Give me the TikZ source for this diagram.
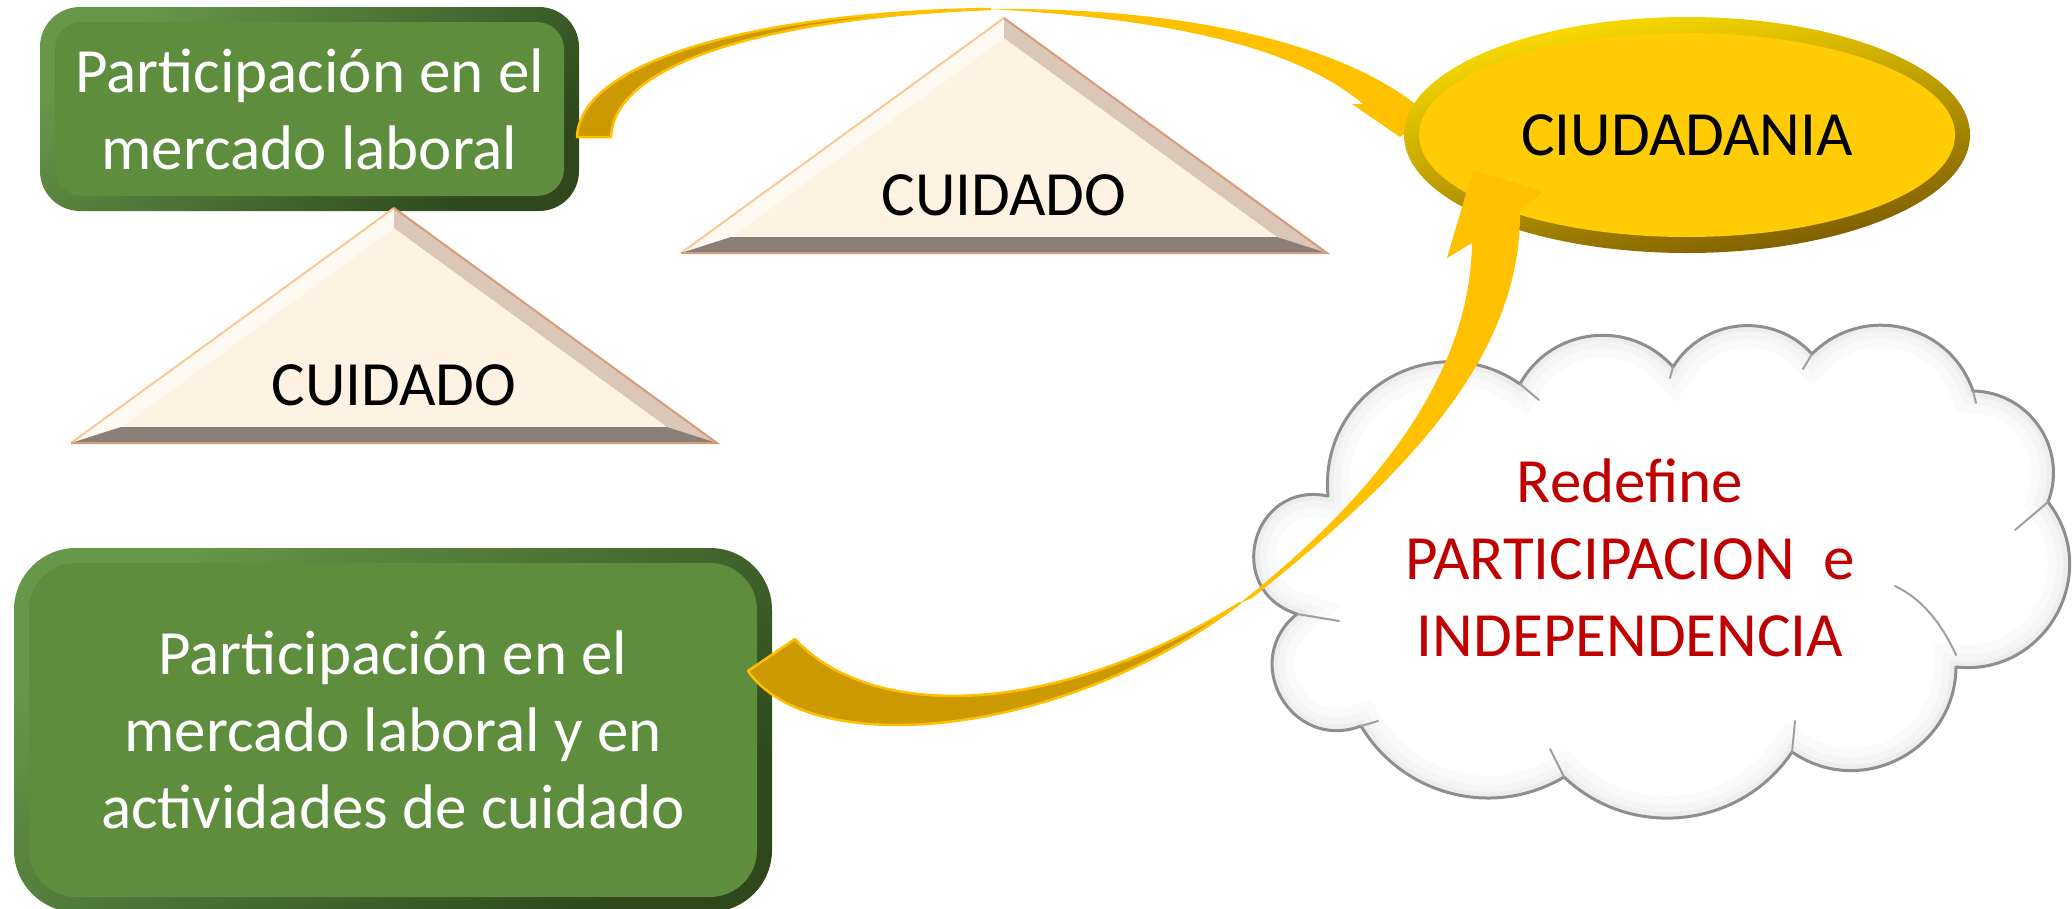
\documentclass[tikz,border=0pt]{standalone}
\usepackage{fontspec}
\setmainfont{Carlito}
\usetikzlibrary{shapes.geometric,calc}
\definecolor{faceGreen}{HTML}{5E8D3E}
\definecolor{rimLight}{HTML}{66974A}
\definecolor{rimDark}{HTML}{2E481C}
\definecolor{arrDark}{HTML}{CC9900}
\definecolor{arrGold}{HTML}{FFC000}
\definecolor{ciuFace}{HTML}{FFCC06}
\definecolor{ringLight}{HTML}{FFE000}
\definecolor{ringDark}{HTML}{7A5A00}
\definecolor{triFace}{HTML}{FEF2E3}
\definecolor{triLeft}{HTML}{FFFAF1}
\definecolor{triRight}{HTML}{DBC7B8}
\definecolor{triBottom}{HTML}{8A7E77}
\definecolor{triEdgeL}{HTML}{F9C896}
\definecolor{triEdgeR}{HTML}{D69C78}
\definecolor{cloudLine}{HTML}{8E8E8E}
\definecolor{redText}{HTML}{C00000}
\tikzset{
  big/.style={font=\fontsize{63pt}{77pt}\selectfont},
  greenbox/.style 2 args={big, text=white, align=center, inner sep=0pt,
    rounded corners=#1, top color=rimLight, bottom color=rimDark, shading angle=40,
    path picture={\fill[faceGreen, rounded corners=#2]
      ([shift={(15pt,-15pt)}]path picture bounding box.north west) rectangle
      ([shift={(-15pt,15pt)}]path picture bounding box.south east);}},
  ringnode/.style={ellipse, big, inner sep=0pt, text=black,
    top color=ringLight, bottom color=ringDark, shading angle=12,
    path picture={\fill[ciuFace] (path picture bounding box.center)
      ellipse [x radius=268pt, y radius=102pt];}},
  label/.style={big, inner sep=0pt, align=center},
  arrowback/.style={fill=arrDark, draw=arrGold, line width=2.5pt, line join=round},
  arrowfront/.style={fill=arrGold},
  cloudTick/.style={cloudLine!85, line width=2pt, line cap=round},
}
\newcommand\BevTri[1]{%
  \begin{scope}[shift={(#1)}]
    \fill[triFace] (0,20) -- (273,219) -- (-273,219) -- cycle;
    \fill[triLeft] (0,0) -- (-323,235) -- (-273,219) -- (0,20) -- cycle;
    \fill[triRight] (0,0) -- (323,235) -- (273,219) -- (0,20) -- cycle;
    \fill[triBottom] (-323,235) -- (323,235) -- (273,219) -- (-273,219) -- cycle;
    \draw[triEdgeL, line width=2pt] (-323,235) -- (0,0);
    \draw[triEdgeR, line width=2pt] (0,0) -- (323,235) -- (-323,235);
  \end{scope}}
\begin{document}
\begin{tikzpicture}[x=1pt,y=-1pt]
\useasboundingbox (0,0) rectangle (2072,908);

% green boxes
\node[greenbox={40pt}{27pt}, minimum width=539pt, minimum height=204pt] (b1) at (309.5,109)
  {Participación en el\\mercado laboral};
\node[greenbox={62pt}{47pt}, minimum width=758pt, minimum height=364pt] (b2) at (393,730)
  {Participación en el\\mercado laboral y en\\actividades de cuidado};

% triangles
\coordinate (t1) at (394,208);
\coordinate (t2) at (1004,18);
\BevTri{t1}
\BevTri{t2}
\node[label] (cu1) at (394,385) {CUIDADO};
\node[label] (cu2) at (1004,195) {CUIDADO};

% cloud
\coordinate (cA) at (1328,496);
\coordinate (cB) at (1520,384);
\coordinate (cC) at (1673,367);
\coordinate (cD) at (1812,354);
\coordinate (cE) at (1973,391);
\coordinate (cF) at (2048,502);
\coordinate (cG) at (1956,667);
\coordinate (cH) at (1792,752);
\coordinate (cI) at (1564,777);
\coordinate (cJ) at (1361,726);
\coordinate (cK) at (1297,614);
\def\CloudPath{(cA) to[bend left=65,looseness=1.2] (cB)
  to[bend left=55,looseness=1.08] (cC)
  to[bend left=53,looseness=1.06] (cD)
  to[bend left=58,looseness=1.12] (cE)
  to[bend left=55,looseness=1.08] (cF)
  to[bend left=67,looseness=1.22] (cG)
  to[bend left=62,looseness=1.16] (cH)
  to[bend left=50,looseness=1.03] (cI)
  to[bend left=45,looseness=1.0] (cJ)
  to[bend left=81,looseness=1.48] (cK)
  to[bend left=87,looseness=1.64] (cA) -- cycle}
\begin{scope}
  \clip \CloudPath;
  \fill[white] \CloudPath;
  \draw[line width=44pt, gray!4] \CloudPath;
  \draw[line width=26pt, gray!8] \CloudPath;
  \draw[line width=12pt, gray!13] \CloudPath;
\end{scope}
\draw[cloudLine, line width=3pt, line join=round] \CloudPath;
\foreach \a/\bx/\by in {cB/1539/400, cC/1670/378, cD/1803/369, cE/1976/403,
  cF/2015/530, cH/1795/721, cI/1550/749, cJ/1378/721, cK/1339/621}
  \draw[cloudTick] (\a) -- (\bx,\by);
\draw[cloudTick] (1956,655) .. controls (1940,620) and (1920,598) .. (1895,586);

% arrow 1 (top box to CIUDADANIA)
\coordinate (a1o) at (577,137);
\coordinate (a1i) at (611,137);
\coordinate (a1t) at (990,9);
\coordinate (a1s1) at (1363,104);
\coordinate (a1s2) at (1415,104);
\coordinate (a1h1) at (1352,104);
\coordinate (a1h2) at (1445,104);
\coordinate (a1tip) at (1400,137);
\filldraw[arrowback] (a1o) .. controls (580,60) and (760,12) .. (a1t)
  .. controls (780,17) and (614,60) .. (a1i) -- cycle;
\fill[arrowfront] (a1t) .. controls (1190,7) and (1340,45) .. (a1s2) -- (a1h2) -- (a1tip)
  -- (a1h1) -- (a1s1) .. controls (1290,42) and (1150,18) .. (a1t) -- cycle;

% CIUDADANIA
\node[ringnode, minimum width=566pt, minimum height=236pt] (ciu) at (1687,135) {CIUDADANIA};

% arrow 2 (bottom box to CIUDADANIA)
\coordinate (a2o) at (748,671);
\coordinate (a2i) at (795,639);
\coordinate (a2t) at (1240,603);
\coordinate (a2n1) at (1472,243);
\coordinate (a2b1) at (1447,258);
\coordinate (a2tip) at (1473,170);
\coordinate (a2b2) at (1543,192);
\coordinate (a2n2) at (1520,210);
\filldraw[arrowback] (a2o) .. controls (810,760) and (1060,740) .. (a2t)
  .. controls (1050,720) and (870,720) .. (a2i) -- cycle;
\fill[arrowfront] (a2t) .. controls (1370,500) and (1470,380) .. (a2n1) -- (a2b1) -- (a2tip)
  -- (a2b2) -- (a2n2) .. controls (1522,360) and (1400,480) .. (1252,598) -- cycle;

% cloud text
\node[label, text=redText] (red) at (1630,558) {Redefine\\PARTICIPACION\ \ e\\INDEPENDENCIA};
\end{tikzpicture}
\end{document}
